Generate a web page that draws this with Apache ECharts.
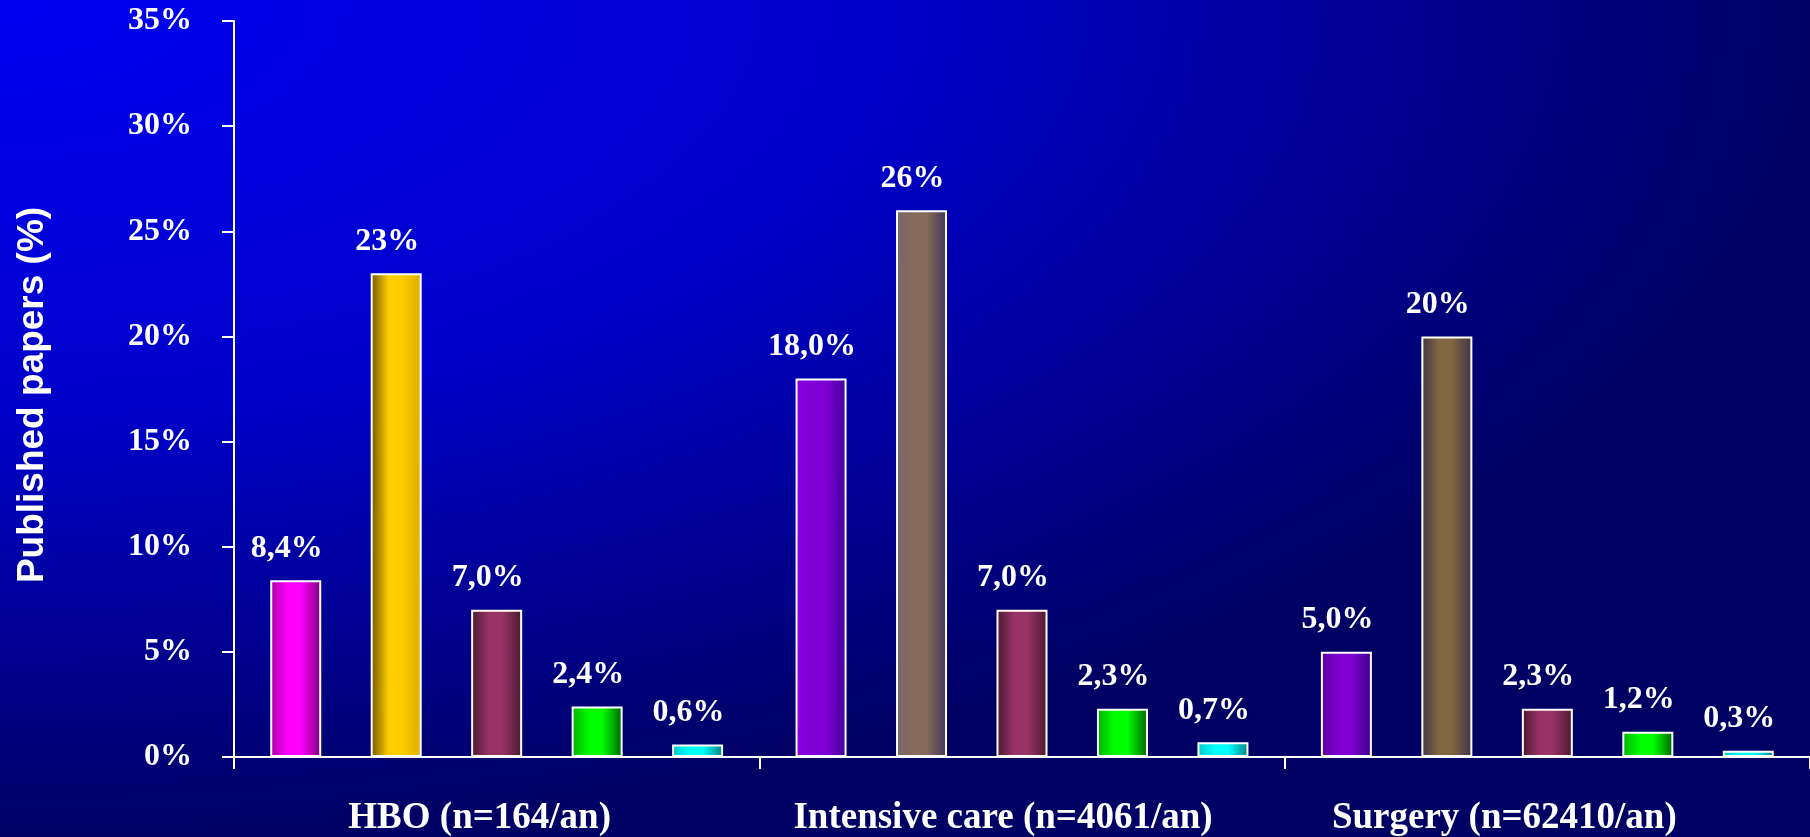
<!DOCTYPE html>
<html>
<head>
<meta charset="utf-8">
<script src="https://cdn.jsdelivr.net/npm/echarts@6/dist/echarts.min.js"></script>
<style>
  html, body { margin: 0; padding: 0; }
  body {
    width: 1810px; height: 837px; overflow: hidden;
    background: radial-gradient(1810px 837px at 0 0, #0000f2 0%, #0000c8 50%, #000064 100%);
  }
  #chart { width: 1810px; height: 837px; }
</style>
</head>
<body>
<div id="chart"></div>
<script>
// ---- data ----
const categories = ['HBO (n=164/an)', 'Intensive care (n=4061/an)', 'Surgery (n=62410/an)'];
const series1 = [8.4, 18.0, 5.0];
const series2 = [23, 26, 20];
const series3 = [7.0, 7.0, 2.3];
const series4 = [2.4, 2.3, 1.2];
const series5 = [0.6, 0.7, 0.3];
const yTicks = { min: 0, max: 35, interval: 5 };

// ---- styles ----
// category label horizontal nudge (px, leftwards)
const catLabelShift = [17, 19, 43];
// per series, per category: [leftEdge, main, rightEdge]
const barColors = [
  [['#a800a8', '#ff00ff', '#7a007a'], ['#8a00e4', '#7f00d4', '#40009a'], ['#5a00a0', '#8000d0', '#40008a']],
  [['#6e5600', '#ffcc00', '#dcae00'], ['#7a6868', '#856c5a', '#3e3458'], ['#3e3444', '#806840', '#3c3248']],
  [['#4a1830', '#993366', '#4a1830'], ['#4a1830', '#993366', '#4a1830'], ['#4a1830', '#993366', '#4a1830']],
  [['#00b000', '#00ff00', '#006000'], ['#00b000', '#00ff00', '#006000'], ['#00b000', '#00ff00', '#006000']],
  [['#00c8c8', '#00ffff', '#008080'], ['#00c8c8', '#00ffff', '#008080'], ['#00c8c8', '#00ffff', '#008080']]
];

function grad(c) {
  return {
    type: 'linear', x: 0, y: 0, x2: 1, y2: 0,
    colorStops: [
      { offset: 0, color: c[0] },
      { offset: 0.35, color: c[1] },
      { offset: 0.6, color: c[1] },
      { offset: 1, color: c[2] }
    ]
  };
}

const allSeries = [series1, series2, series3, series4, series5];
const serif = '"Liberation Serif", "Times New Roman", serif';

function fmt(v, integer) {
  return integer ? Math.round(v) + '%' : v.toFixed(1).replace('.', ',') + '%';
}

const chart = echarts.init(document.getElementById('chart'), null, { renderer: 'canvas' });
chart.setOption({
  backgroundColor: 'transparent',
  animation: false,
  grid: { left: 234, right: 0, top: 21, bottom: 79, containLabel: false },
  xAxis: {
    type: 'category',
    data: categories.map((c, i) => ({
      value: c,
      textStyle: { padding: [0, catLabelShift[i] * 2, 0, 0] }
    })),
    axisLine: { show: true, lineStyle: { color: '#ffffff', width: 2 } },
    axisTick: { show: true, interval: 0, length: 12, lineStyle: { color: '#ffffff', width: 2 } },
    axisLabel: { interval: 0, color: '#ffffff', fontFamily: serif, fontWeight: 'bold', fontSize: 37, margin: 43 },
    splitLine: { show: false }
  },
  yAxis: {
    type: 'value',
    min: yTicks.min, max: yTicks.max, interval: yTicks.interval,
    name: 'Published papers (%)',
    nameLocation: 'middle',
    nameGap: 183,
    nameTextStyle: {
      color: '#ffffff', fontFamily: '"Liberation Sans", Arial, sans-serif',
      fontWeight: 'bold', fontSize: 37, padding: [0, 12, 0, 0]
    },
    axisLine: { show: true, lineStyle: { color: '#ffffff', width: 2 } },
    axisTick: { show: true, length: 12, lineStyle: { color: '#ffffff', width: 2 } },
    axisLabel: {
      color: '#ffffff', fontFamily: serif, fontWeight: 'bold', fontSize: 32, margin: 42,
      padding: [5, 0, 0, 0], formatter: '{value}%'
    },
    splitLine: { show: false }
  },
  series: allSeries.map((vals, si) => ({
    type: 'bar',
    barWidth: 51,
    barGap: '97%',
    data: vals.map((v, ci) => ({
      value: v,
      itemStyle: { color: grad(barColors[si][ci]) }
    })),
    itemStyle: { borderColor: '#ffffff', borderWidth: 2 },
    label: {
      show: true,
      position: 'top',
      distance: 16,
      offset: [-9, 0],
      color: '#ffffff',
      fontFamily: serif,
      fontWeight: 'bold',
      fontSize: 32,
      formatter: p => fmt(p.value, si === 1)
    }
  }))
});
</script>
</body>
</html>
